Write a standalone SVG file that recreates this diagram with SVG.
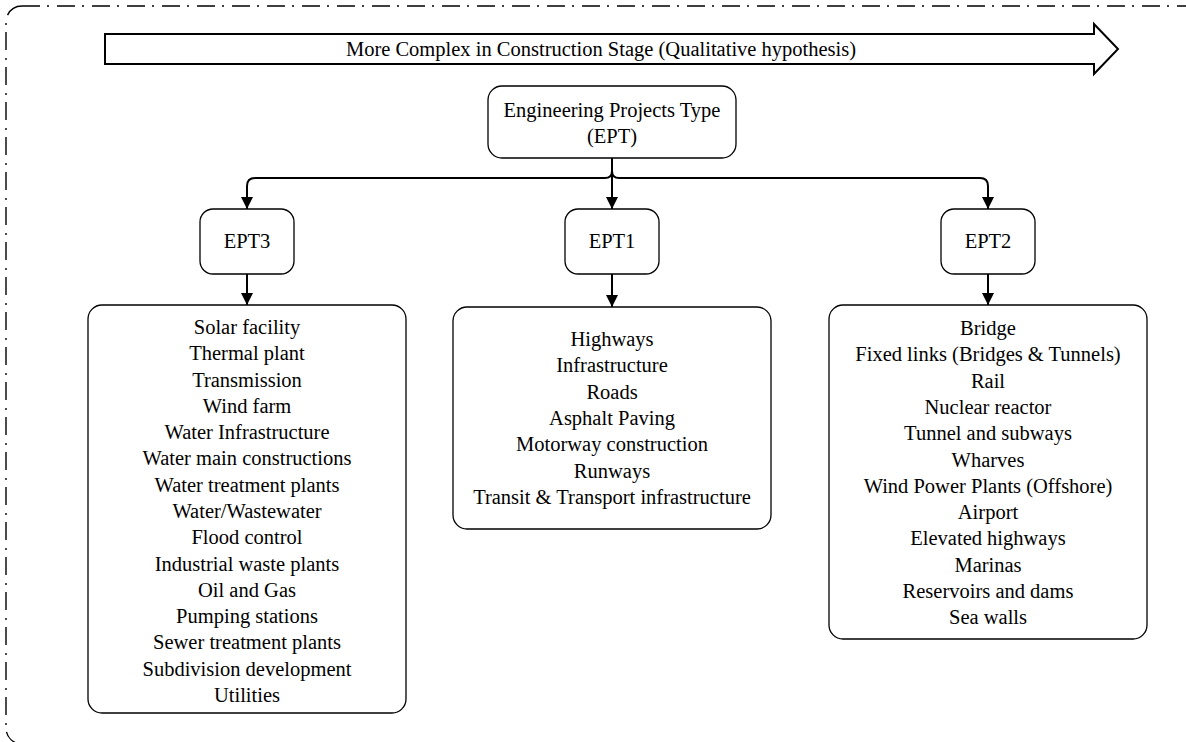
<svg xmlns="http://www.w3.org/2000/svg" width="1186" height="742" viewBox="0 0 1186 742">
<defs>
<style>
.t{font-family:"Liberation Serif","Times New Roman",serif;font-size:20.5px;fill:#000;text-anchor:middle}
.box{fill:#fff;stroke:#000;stroke-width:1.3}
.con{fill:none;stroke:#000;stroke-width:2}
.frame{fill:none;stroke:#000;stroke-width:1.4;stroke-dasharray:18 7 2 8}
</style>
<marker id="ah" viewBox="0 0 12 12" refX="12" refY="6" markerWidth="12" markerHeight="12" markerUnits="userSpaceOnUse" orient="auto">
<path d="M0,0 L12,6 L0,12 Z" fill="#000"/>
</marker>
</defs>
<rect width="1186" height="742" fill="#fff"/>
<rect class="frame" x="6" y="6" width="1210" height="738" rx="16"/>
<g id="trend">
<polygon points="105,34 1094,34 1094,24 1118,49 1094,74 1094,64 105,64" fill="#fff" stroke="#000" stroke-width="2"/>
<text class="t" x="601" y="56">More Complex in Construction Stage (Qualitative hypothesis)</text>
</g>
<g id="connectors">
<path class="con" d="M612,158 V209" marker-end="url(#ah)"/>
<path class="con" d="M612,158 V171 Q612,178 605,178 H255 Q247,178 247,186 V209" marker-end="url(#ah)"/>
<path class="con" d="M612,158 V171 Q612,178 619,178 H980 Q988,178 988,186 V209" marker-end="url(#ah)"/>
<path class="con" d="M247,274 V305" marker-end="url(#ah)"/>
<path class="con" d="M612,274 V307" marker-end="url(#ah)"/>
<path class="con" d="M988,274 V305" marker-end="url(#ah)"/>
</g>
<g id="ept">
<rect class="box" x="488" y="86" width="248" height="72" rx="14"/>
<text class="t" x="612" y="117">Engineering Projects Type</text>
<text class="t" x="612" y="143">(EPT)</text>
</g>
<g id="ept3">
<rect class="box" x="200" y="209" width="94" height="65" rx="13"/>
<text class="t" x="247" y="248">EPT3</text>
</g>
<g id="ept1">
<rect class="box" x="565" y="209" width="94" height="65" rx="13"/>
<text class="t" x="612" y="248">EPT1</text>
</g>
<g id="ept2">
<rect class="box" x="941" y="209" width="94" height="65" rx="13"/>
<text class="t" x="988" y="248">EPT2</text>
</g>
<g id="ept3-list">
<rect class="box" x="88" y="305" width="318" height="408" rx="14"/>
<text class="t" x="247" y="334">Solar facility</text>
<text class="t" x="247" y="360.3">Thermal plant</text>
<text class="t" x="247" y="386.6">Transmission</text>
<text class="t" x="247" y="412.9">Wind farm</text>
<text class="t" x="247" y="439.1">Water Infrastructure</text>
<text class="t" x="247" y="465.4">Water main constructions</text>
<text class="t" x="247" y="491.7">Water treatment plants</text>
<text class="t" x="247" y="518">Water/Wastewater</text>
<text class="t" x="247" y="544.3">Flood control</text>
<text class="t" x="247" y="570.5">Industrial waste plants</text>
<text class="t" x="247" y="596.8">Oil and Gas</text>
<text class="t" x="247" y="623.1">Pumping stations</text>
<text class="t" x="247" y="649.4">Sewer treatment plants</text>
<text class="t" x="247" y="675.7">Subdivision development</text>
<text class="t" x="247" y="702">Utilities</text>
</g>
<g id="ept1-list">
<rect class="box" x="453" y="307" width="318" height="222" rx="14"/>
<text class="t" x="612" y="346">Highways</text>
<text class="t" x="612" y="372.3">Infrastructure</text>
<text class="t" x="612" y="398.6">Roads</text>
<text class="t" x="612" y="424.9">Asphalt Paving</text>
<text class="t" x="612" y="451.2">Motorway construction</text>
<text class="t" x="612" y="477.5">Runways</text>
<text class="t" x="612" y="503.8">Transit &amp; Transport infrastructure</text>
</g>
<g id="ept2-list">
<rect class="box" x="829" y="305" width="318" height="334" rx="14"/>
<text class="t" x="988" y="335">Bridge</text>
<text class="t" x="988" y="361.3">Fixed links (Bridges &amp; Tunnels)</text>
<text class="t" x="988" y="387.6">Rail</text>
<text class="t" x="988" y="413.9">Nuclear reactor</text>
<text class="t" x="988" y="440.2">Tunnel and subways</text>
<text class="t" x="988" y="466.5">Wharves</text>
<text class="t" x="988" y="492.8">Wind Power Plants (Offshore)</text>
<text class="t" x="988" y="519.1">Airport</text>
<text class="t" x="988" y="545.4">Elevated highways</text>
<text class="t" x="988" y="571.7">Marinas</text>
<text class="t" x="988" y="598">Reservoirs and dams</text>
<text class="t" x="988" y="624.3">Sea walls</text>
</g>
</svg>
